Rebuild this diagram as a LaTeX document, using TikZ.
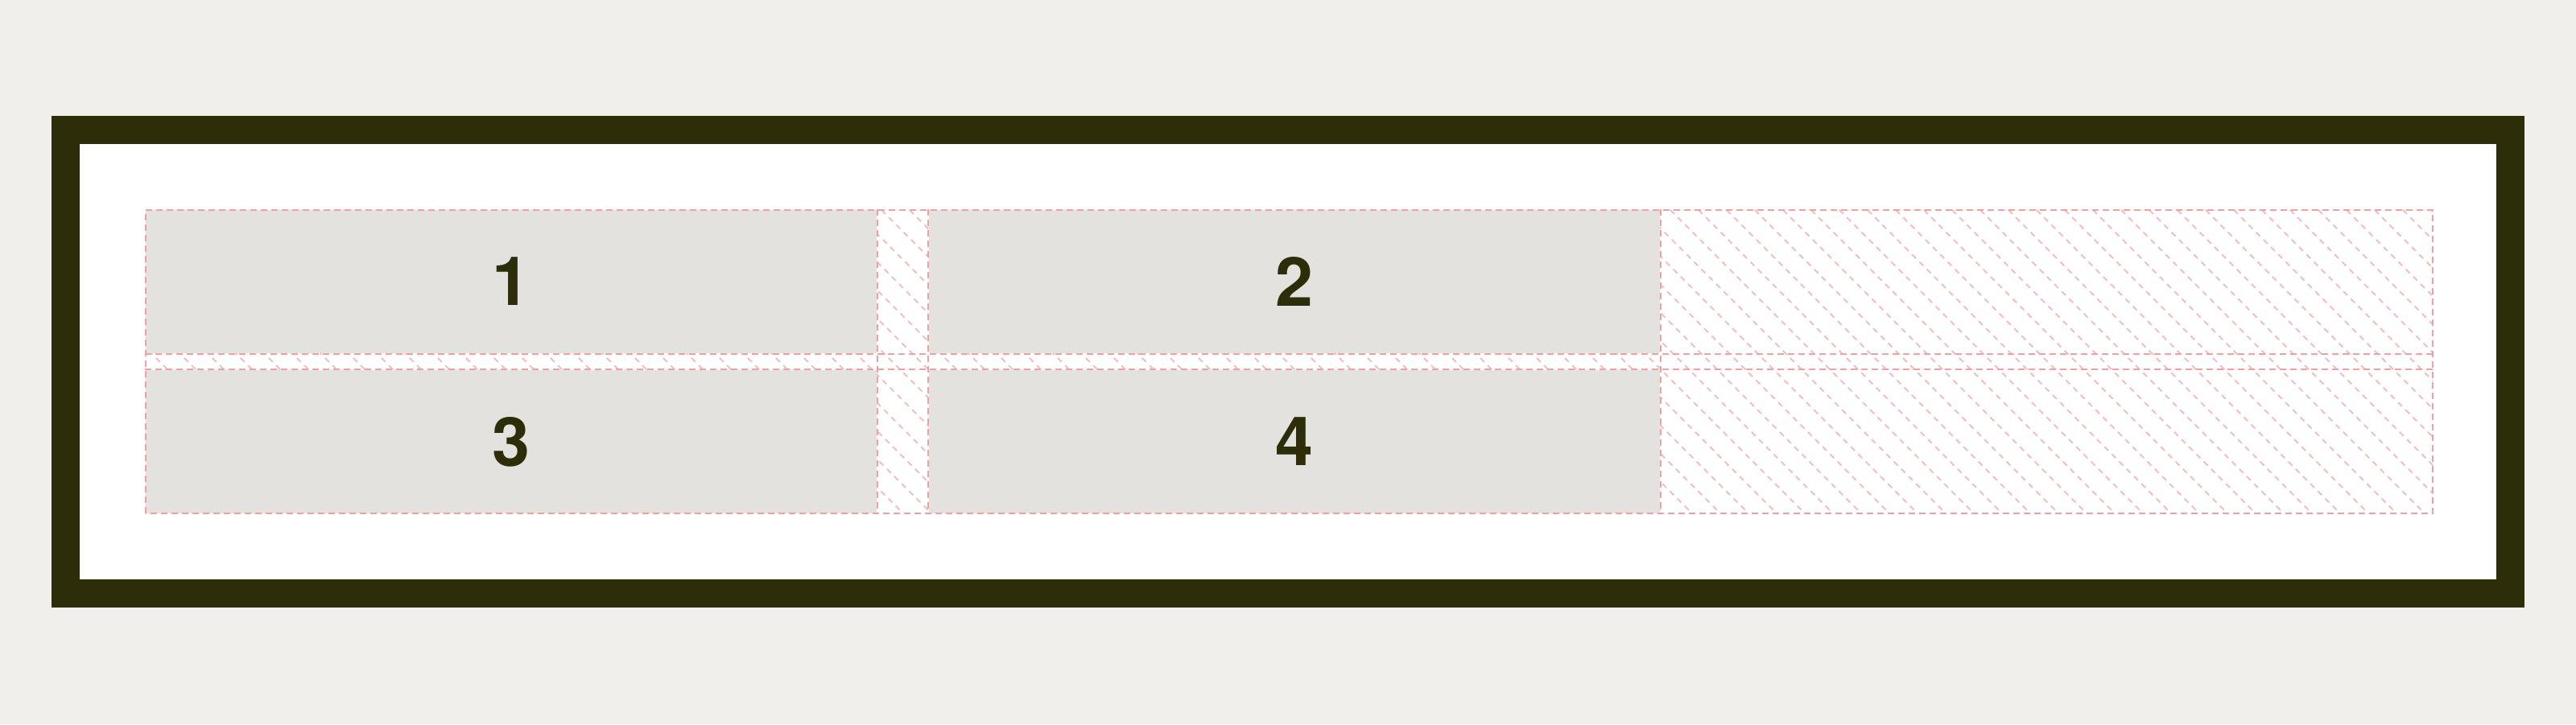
\documentclass[tikz,border=0pt]{standalone}
\usepackage{fontspec}
\setmainfont{TeX Gyre Heros}
\usepackage{xcolor}
\usepackage{tikz}
\definecolor{paper}{RGB}{240,239,235}
\definecolor{olive}{RGB}{45,45,10}
\definecolor{cellgray}{RGB}{227,226,222}
\definecolor{guide}{RGB}{240,160,160}

\begin{document}
\begin{tikzpicture}[
    frame/.style={line width=0.35cm, draw=olive, fill=white},
    item/.style={fill=cellgray, draw=none, minimum width=9.08cm, minimum height=1.78cm,
      inner sep=0pt, text=olive, font=\fontsize{24}{28}\selectfont\bfseries},
    grid line/.style={draw=guide, line width=0.6pt, dash pattern=on 0.08cm off 0.05cm},
    hatch/.style={draw=guide!80, line width=0.45pt, dash pattern=on 0.07cm off 0.06cm}
    ]
\fill[paper] (0,0) rectangle (32,9);
\useasboundingbox (0,0) rectangle (32,9);
\draw[frame] (0.815,1.625) rectangle (31.185,7.385);
% grid area and its hatched free space
\coordinate (gridSW) at (1.81,2.62);
\coordinate (gridNE) at (30.22,6.39);
\begin{scope}
  \clip (gridSW) rectangle (gridNE);
  \foreach \a in {-2.0,-1.65,...,30.4}
    \draw[hatch] (\a,6.39) -- ++(3.77,-3.77);
\end{scope}
% items
\node[item] (one) at (6.35,5.50) {1};
\node[item] (two) at (16.08,5.50) {2};
\node[item] (three) at (6.35,3.51) {3};
\node[item] (four) at (16.08,3.51) {4};
% grid lines
\draw[grid line] (gridSW) rectangle (gridNE);
\draw[grid line] (one.north east) -- (one.north east |- gridSW);
\draw[grid line] (two.north west) -- (two.north west |- gridSW);
\draw[grid line] (two.north east) -- (two.north east |- gridSW);
\draw[grid line] (one.south west) -- (one.south west -| gridNE);
\draw[grid line] (three.north west) -- (three.north west -| gridNE);
\end{tikzpicture}
\end{document}
